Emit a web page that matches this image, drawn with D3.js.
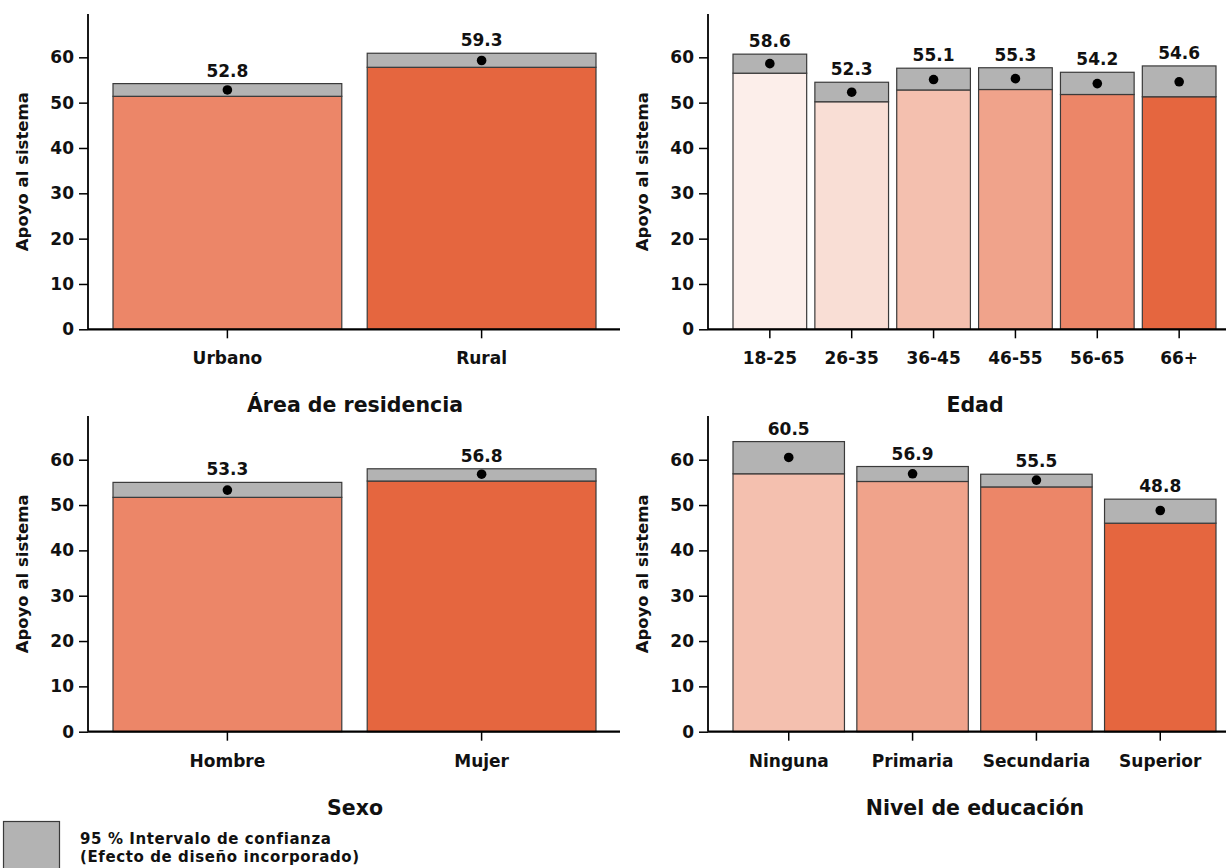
<!DOCTYPE html>
<html>
<head>
<meta charset="utf-8">
<script src="https://cdn.jsdelivr.net/npm/d3@7"></script>
<style>
  html, body { margin: 0; padding: 0; background: #fff; }
  svg text { font-family: "DejaVu Sans", sans-serif; font-weight: bold; fill: #111; }
</style>
</head>
<body>
<svg id="chart" width="1226" height="868"></svg>
<script>
// ---- Data ----
const yTicks = [0, 10, 20, 30, 40, 50, 60];
const yLabel = "Apoyo al sistema";

const residenciaTitle = "Área de residencia";
const residenciaCats = ["Urbano", "Rural"];
const residenciaMean = [52.8, 59.3];
const residenciaLow  = [51.4, 57.8];
const residenciaHigh = [54.2, 60.9];

const edadTitle = "Edad";
const edadCats = ["18-25", "26-35", "36-45", "46-55", "56-65", "66+"];
const edadMean = [58.6, 52.3, 55.1, 55.3, 54.2, 54.6];
const edadLow  = [56.5, 50.2, 52.8, 52.9, 51.8, 51.3];
const edadHigh = [60.7, 54.5, 57.6, 57.7, 56.7, 58.1];

const sexoTitle = "Sexo";
const sexoCats = ["Hombre", "Mujer"];
const sexoMean = [53.3, 56.8];
const sexoLow  = [51.7, 55.3];
const sexoHigh = [55.0, 58.0];

const eduTitle = "Nivel de educación";
const eduCats = ["Ninguna", "Primaria", "Secundaria", "Superior"];
const eduMean = [60.5, 56.9, 55.5, 48.8];
const eduLow  = [56.9, 55.2, 54.0, 46.0];
const eduHigh = [64.0, 58.5, 56.8, 51.3];

const legendLines = ["95 % Intervalo de confianza", "(Efecto de diseño incorporado)"];

// ---- Styles ----
const palette2 = ["#EC8668", "#E5663F"];
const palette6 = ["#FCEEEA", "#F9DED5", "#F4C0AF", "#F0A38B", "#EC8668", "#E5663F"];
const palette4 = ["#F4C0AF", "#F0A38B", "#EC8668", "#E5663F"];
const ciFill = "#B3B3B3";
const barStroke = "#3a3a3a";

const svg = d3.select("#chart");

function panel(cfg) {
  const { x0, yZero, yTop, title, cats, mean, low, high, colors } = cfg;
  const g = svg.append("g");
  const y = d3.scaleLinear().domain([0, 69.6]).range([yZero, yZero - 69.6 * 4.533]);
  const x = d3.scaleBand().domain(cats).range([x0 + 25, x0 + 508]).paddingInner(0.1).paddingOuter(0);

  // bars (to lower CI bound)
  g.selectAll("rect.bar").data(cats).enter().append("rect")
    .attr("class", "bar")
    .attr("x", d => x(d)).attr("width", x.bandwidth())
    .attr("y", (d, i) => y(low[i])).attr("height", (d, i) => y(0) - y(low[i]))
    .attr("fill", (d, i) => colors[i])
    .attr("stroke", barStroke).attr("stroke-width", 1.2);

  // CI boxes
  g.selectAll("rect.ci").data(cats).enter().append("rect")
    .attr("class", "ci")
    .attr("x", d => x(d)).attr("width", x.bandwidth())
    .attr("y", (d, i) => y(high[i])).attr("height", (d, i) => y(low[i]) - y(high[i]))
    .attr("fill", ciFill)
    .attr("stroke", barStroke).attr("stroke-width", 1.2);

  // points
  g.selectAll("circle.pt").data(cats).enter().append("circle")
    .attr("cx", d => x(d) + x.bandwidth() / 2)
    .attr("cy", (d, i) => y(mean[i]))
    .attr("r", 4.8).attr("fill", "#000");

  // value labels
  g.selectAll("text.val").data(cats).enter().append("text")
    .attr("x", d => x(d) + x.bandwidth() / 2)
    .attr("y", (d, i) => y(high[i]) - 7)
    .attr("text-anchor", "middle")
    .style("font-size", "17px")
    .text((d, i) => mean[i].toFixed(1));

  // y axis
  const yAxis = g.append("g").attr("transform", `translate(${x0},0)`)
    .call(d3.axisLeft(y).tickValues(yTicks).tickSize(9).tickPadding(5).tickFormat(d3.format("d")));
  yAxis.select(".domain").remove();
  yAxis.append("line").attr("x1", 0).attr("x2", 0).attr("y1", yZero).attr("y2", yTop)
    .attr("stroke", "#000").attr("stroke-width", 1.8);
  yAxis.selectAll(".tick line").attr("stroke", "#000").attr("stroke-width", 1.5);
  yAxis.selectAll(".tick text").style("font-size", "17px").attr("fill", "#111")
    .style("font-family", "DejaVu Sans").style("font-weight", "bold");

  // x axis
  const xAxis = g.append("g").attr("transform", `translate(0,${yZero})`)
    .call(d3.axisBottom(x).tickSize(9).tickPadding(14));
  xAxis.select(".domain").remove();
  xAxis.append("line").attr("x1", x0).attr("x2", x0 + 532).attr("y1", 0).attr("y2", 0)
    .attr("stroke", "#000").attr("stroke-width", 2.2);
  xAxis.selectAll(".tick line").attr("stroke", "#000").attr("stroke-width", 1.5);
  xAxis.selectAll(".tick text").style("font-size", "17px").attr("fill", "#111")
    .style("font-family", "DejaVu Sans").style("font-weight", "bold");

  // y label
  g.append("text")
    .attr("transform", `translate(${x0 - 60},${(yZero + yTop) / 2}) rotate(-90)`)
    .attr("text-anchor", "middle")
    .style("font-size", "16.5px")
    .text(yLabel);

  // panel title
  g.append("text")
    .attr("x", x0 + 267).attr("y", yZero + 83)
    .attr("text-anchor", "middle")
    .style("font-size", "20.5px")
    .text(title);
}

panel({ x0: 88, yZero: 329.3, yTop: 14, title: residenciaTitle, cats: residenciaCats,
        mean: residenciaMean, low: residenciaLow, high: residenciaHigh, colors: palette2 });
panel({ x0: 708, yZero: 329.3, yTop: 14, title: edadTitle, cats: edadCats,
        mean: edadMean, low: edadLow, high: edadHigh, colors: palette6 });
panel({ x0: 88, yZero: 731.7, yTop: 416, title: sexoTitle, cats: sexoCats,
        mean: sexoMean, low: sexoLow, high: sexoHigh, colors: palette2 });
panel({ x0: 708, yZero: 731.7, yTop: 416, title: eduTitle, cats: eduCats,
        mean: eduMean, low: eduLow, high: eduHigh, colors: palette4 });

// legend
const lg = svg.append("g");
lg.append("rect").attr("x", 3.5).attr("y", 821.5).attr("width", 56).attr("height", 60)
  .attr("fill", ciFill).attr("stroke", barStroke).attr("stroke-width", 1.2);
lg.selectAll("text").data(legendLines).enter().append("text")
  .attr("x", 80).attr("y", (d, i) => 844 + i * 18)
  .style("font-size", "15px")
  .style("letter-spacing", "0.6px")
  .text(d => d);
</script>
</body>
</html>
